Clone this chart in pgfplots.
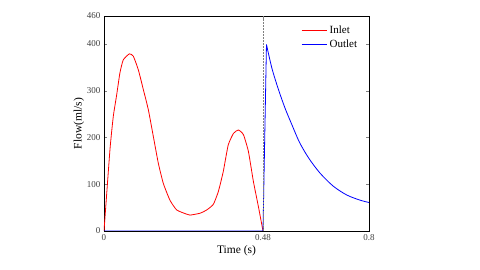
\documentclass[border=0pt]{standalone}
\usepackage{pgfplots}
\pgfplotsset{compat=1.18}
\usepackage{fontspec}
\setmainfont{Liberation Serif}
\begin{document}
\begin{tikzpicture}
\path[use as bounding box] (-104pt,-39pt) rectangle (376pt,231pt);
\begin{axis}[
  at={(0pt,0pt)}, anchor=south west,
  scale only axis, width=265pt, height=215pt,
  xmin=0, xmax=0.8, ymin=0, ymax=460,
  xtick={0,0.48,0.8}, xticklabels={0,0.48,0.8},
  ytick={0,100,200,300,400,460},
  tick align=inside,
  major tick length=3pt,
  /pgf/number format/assume math mode=true,
  tick label style={font=\fontsize{9}{10}\selectfont, text=black!75},
  xlabel={Time (s)}, ylabel={Flow(ml/s)},
  label style={font=\fontsize{11.5}{13}\selectfont},
  xlabel style={yshift=2pt},
  ylabel style={yshift=-4pt},
  axis line style={line width=0.8pt},
  legend style={draw=none, fill=none, at={(0.975,0.975)}, anchor=north east,
    font=\fontsize{11}{12}\selectfont, row sep=1pt},
  legend cell align=left,
]
\addlegendimage{red, line width=0.8pt, xscale=1.5}
\addlegendentry{Inlet}
\addlegendimage{blue, line width=0.8pt, xscale=1.5}
\addlegendentry{Outlet}
\addplot[red, line width=0.8pt, smooth, tension=0.3, forget plot] coordinates {
(0,0) (0.018,174) (0.028,245) (0.038,290) (0.048,338) (0.058,366) (0.0765,379)
(0.0885,374) (0.1036,345) (0.119,302) (0.134,259) (0.149,202) (0.164,145)
(0.179,102) (0.199,66) (0.2195,45) (0.2496,36) (0.2596,34) (0.29,38) (0.31,45)
(0.33,57) (0.345,84) (0.36,127) (0.375,184) (0.391,209) (0.406,216) (0.421,206)
(0.436,170) (0.451,106) (0.467,49) (0.48,0)
};
\addplot[blue, line width=0.8pt, forget plot] coordinates {
(0,0) (0.48,0) (0.4905,399)
};
\addplot[blue, line width=0.8pt, smooth, tension=0.5, forget plot] coordinates {
(0.4905,399) (0.507,348) (0.527,302) (0.547,262) (0.5675,227) (0.59,190)
(0.618,156) (0.652,124) (0.692,96) (0.733,77) (0.773,66) (0.8,61)
};
\addplot[red, line width=0.8pt, forget plot] coordinates {(0.48,0) (0.8,0)};
\addplot[gray, densely dotted, line width=0.5pt, forget plot] coordinates {(0.48,0) (0.48,460)};
\end{axis}
\end{tikzpicture}
\end{document}
